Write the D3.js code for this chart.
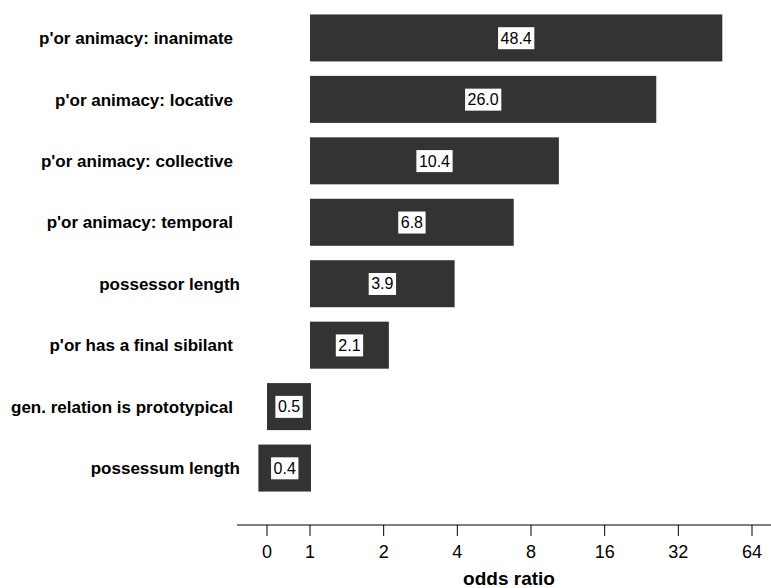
<!DOCTYPE html>
<html>
<head>
<meta charset="utf-8">
<script src="https://cdn.jsdelivr.net/npm/d3@7"></script>
<style>
  html, body { margin: 0; padding: 0; background: #fff; }
  svg { display: block; font-family: "Liberation Sans", Arial, Helvetica, sans-serif; }
</style>
</head>
<body>
<svg id="chart" width="771" height="588"></svg>
<script>
// Predictors of the s-genitive, with their odds ratios
const categories = [
  "p'or animacy: inanimate",
  "p'or animacy: locative",
  "p'or animacy: collective",
  "p'or animacy: temporal",
  "possessor length",
  "p'or has a final sibilant",
  "gen. relation is prototypical",
  "possessum length"
];
const oddsRatios = [48.4, 26.0, 10.4, 6.8, 3.9, 2.1, 0.5, 0.4];
const tickValues = [0.5, 1, 2, 4, 8, 16, 32, 64];
const tickLabels = ["0", "1", "2", "4", "8", "16", "32", "64"];

const svg = d3.select("#chart");
const barColor = "#333333";

// Odds ratios of 1 and above sit on a base-2 log scale; those below 1 on a short linear stretch
const xLog = d3.scaleLog().base(2).domain([1, 64]).range([310, 752]);
const xLow = d3.scaleLinear().domain([0.5, 1]).range([267, xLog(1)]);
const x = v => (v >= 1 ? xLog(v) : xLow(v));

const y = d3.scaleBand()
  .domain(categories)
  .range([0, 506])
  .paddingInner(0.235)
  .paddingOuter(0.235);

const rows = categories.map((c, i) => ({ cat: c, val: oddsRatios[i] }));

// Bars grow outward from an odds ratio of 1
svg.append("g").selectAll("rect")
  .data(rows)
  .join("rect")
  .attr("x", d => Math.min(x(d.val), x(1)))
  .attr("y", d => y(d.cat))
  .attr("width", d => Math.abs(x(d.val) - x(1)) + (d.val < 1 ? 1 : 0))
  .attr("height", y.bandwidth())
  .attr("fill", barColor);

// Value labels on white boxes in the middle of each bar
const labels = svg.append("g").selectAll("g")
  .data(rows)
  .join("g")
  .attr("transform", d => {
    const x0 = Math.min(x(d.val), x(1));
    const x1 = Math.max(x(d.val), x(1)) + (d.val < 1 ? 1 : 0);
    return `translate(${(x0 + x1) / 2},${y(d.cat) + y.bandwidth() / 2})`;
  });

labels.append("text")
  .attr("text-anchor", "middle")
  .attr("dy", "0.36em")
  .attr("font-size", 16)
  .attr("fill", "#000")
  .text(d => d.val.toFixed(1));

labels.each(function () {
  const g = d3.select(this);
  const bb = g.select("text").node().getBBox();
  g.insert("rect", "text")
    .attr("x", bb.x - 2.5)
    .attr("y", bb.y - 2.5)
    .attr("width", bb.width + 5)
    .attr("height", bb.height + 5)
    .attr("fill", "#fff");
});

// Category names to the left of the bars
svg.append("g").selectAll("text")
  .data(rows)
  .join("text")
  .attr("x", d => (d.cat.endsWith("length") ? 240 : 233))
  .attr("y", d => y(d.cat) + y.bandwidth() / 2)
  .attr("dy", "0.36em")
  .attr("text-anchor", "end")
  .attr("font-size", 17)
  .attr("font-weight", "bold")
  .attr("fill", "#000")
  .text(d => d.cat);

// Bottom axis
const axisY = 525;
const axis = svg.append("g");
axis.append("line")
  .attr("x1", 237).attr("x2", 771)
  .attr("y1", axisY).attr("y2", axisY)
  .attr("stroke", "#000").attr("stroke-width", 1);

const ticks = axis.selectAll("g.tick")
  .data(tickValues.map((v, i) => ({ v, label: tickLabels[i] })))
  .join("g")
  .attr("class", "tick")
  .attr("transform", d => `translate(${x(d.v)},${axisY})`);

ticks.append("line")
  .attr("y2", 11)
  .attr("stroke", "#000").attr("stroke-width", 1);

ticks.append("text")
  .attr("y", 33)
  .attr("text-anchor", "middle")
  .attr("font-size", 18)
  .attr("fill", "#000")
  .text(d => d.label);

svg.append("text")
  .attr("x", 509)
  .attr("y", 585)
  .attr("text-anchor", "middle")
  .attr("font-size", 19)
  .attr("font-weight", "bold")
  .attr("fill", "#000")
  .text("odds ratio");
</script>
</body>
</html>
